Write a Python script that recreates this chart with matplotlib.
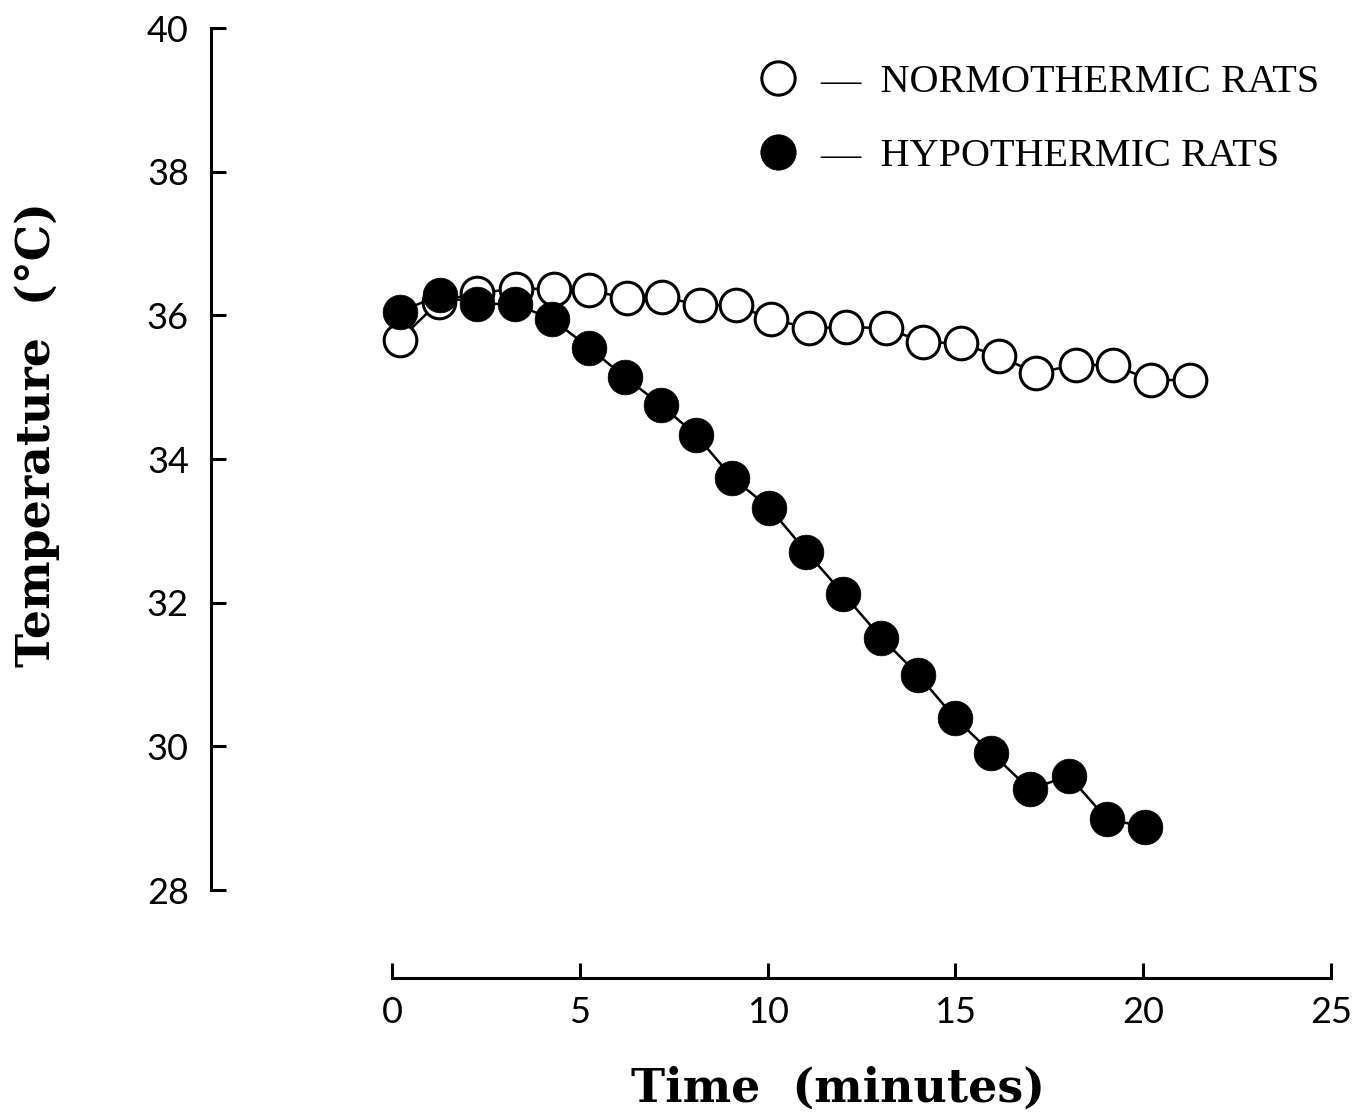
import matplotlib
matplotlib.use("Agg")
import matplotlib.pyplot as plt
from matplotlib.lines import Line2D

# ---- data ----
normo_time = [0.2, 1.25, 2.25, 3.3, 4.3, 5.25, 6.25, 7.2, 8.2, 9.15, 10.1, 11.1,
              12.1, 13.15, 14.15, 15.15, 16.15, 17.15, 18.2, 19.2, 20.2, 21.25]
normo_temp = [35.66, 36.19, 36.31, 36.37, 36.37, 36.35, 36.24, 36.26, 36.14, 36.14, 35.95, 35.82,
              35.84, 35.82, 35.63, 35.61, 35.43, 35.20, 35.31, 35.31, 35.10, 35.10]

hypo_time = [0.2, 1.27, 2.25, 3.27, 4.25, 5.25, 6.2, 7.17, 8.1, 9.06, 10.05, 11.03,
             12.02, 13.03, 14.0, 14.98, 15.96, 16.98, 18.02, 19.03, 20.04]
hypo_temp = [36.05, 36.28, 36.16, 36.16, 35.95, 35.55, 35.14, 34.75, 34.33, 33.74, 33.32, 32.71,
             32.12, 31.51, 31.00, 30.40, 29.91, 29.40, 29.59, 28.99, 28.88]

x_ticks = [0, 5, 10, 15, 20, 25]
y_ticks = [28, 30, 32, 34, 36, 38, 40]
series_labels = ["\u2014  NORMOTHERMIC RATS", "\u2014  HYPOTHERMIC RATS"]

fig = plt.figure(figsize=(13.64, 11.18), dpi=100)
ax = fig.add_axes([0.1547, 0.1252, 0.8211, 0.8497])

ax.plot(normo_time, normo_temp, color="black", lw=1.8, marker="o", ms=23.5,
        mfc="white", mec="black", mew=2.2, zorder=2, clip_on=False)
ax.plot(hypo_time, hypo_temp, color="black", lw=1.8, marker="o", ms=25,
        mfc="black", mec="black", mew=0.5, zorder=3, clip_on=False)

ax.set_xlim(-4.82, 25)
ax.set_ylim(26.775, 40)

for s in ["top", "right"]:
    ax.spines[s].set_visible(False)
ax.spines["left"].set_bounds(28, 40)
ax.spines["bottom"].set_bounds(0, 25)
for s in ["left", "bottom"]:
    ax.spines[s].set_linewidth(2.2)

ax.set_xticks(x_ticks)
ax.set_yticks(y_ticks)
tick_font = {"family": "Lato", "size": 26}
ax.set_xticklabels([str(v) for v in x_ticks], fontdict=tick_font)
ax.set_yticklabels([str(v) for v in y_ticks], fontdict=tick_font)
ax.tick_params(axis="both", direction="in", length=11, width=2.2)
ax.tick_params(axis="y", pad=16)
ax.tick_params(axis="x", pad=13)

label_font = {"family": "DejaVu Serif", "size": 33, "weight": "bold"}
ax.set_xlabel("Time  (minutes)", fontdict=label_font, va="center")
ax.xaxis.set_label_coords((838 - 211) / 1120, -0.117)
ax.set_ylabel("Temperature  (\u00b0C)", fontdict=label_font, va="center")
ax.yaxis.set_label_coords(-0.155, (978 - 435) / 950)

handles = [
    Line2D([], [], ls="none", marker="o", ms=24, mfc="white", mec="black", mew=2.2),
    Line2D([], [], ls="none", marker="o", ms=25.5, mfc="black", mec="black", mew=0.5),
]
ax.legend(handles, series_labels, loc="upper left",
          bbox_to_anchor=(758 / 1364, 1 - 64 / 1118), bbox_transform=fig.transFigure,
          frameon=False, borderpad=0, borderaxespad=0, handlelength=1.0,
          handletextpad=0.55, labelspacing=0.9,
          prop={"family": "Liberation Serif", "size": 29})

fig.savefig("out.png", dpi=100, facecolor="white")
